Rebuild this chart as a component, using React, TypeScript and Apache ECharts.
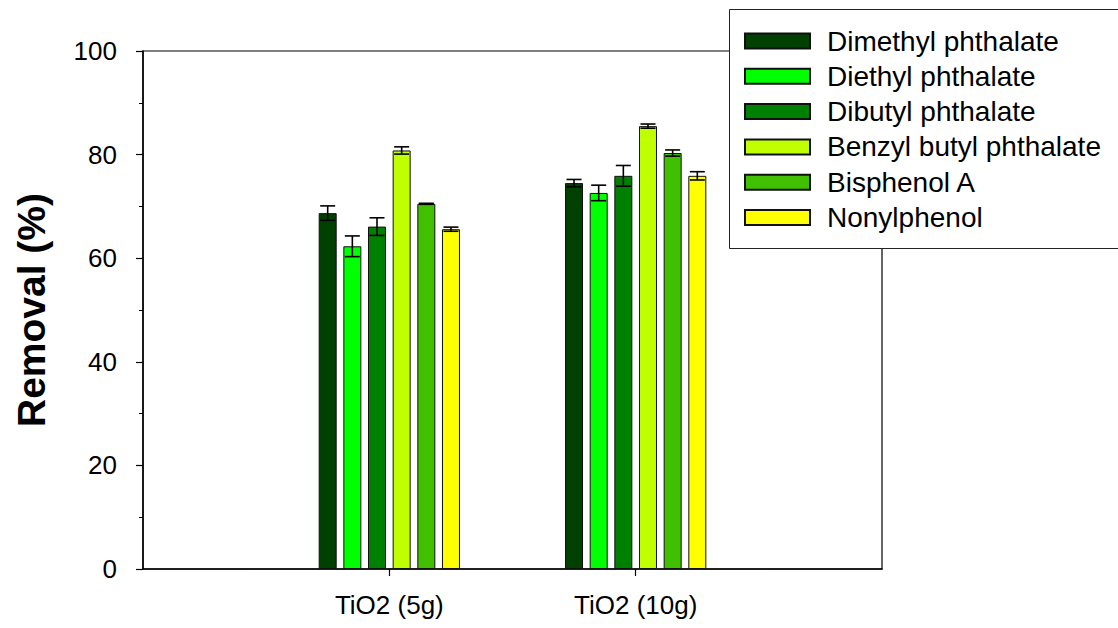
import React, { useEffect, useRef } from "react";
import * as echarts from "echarts";

const categories = ["", "TiO2 (5g)", "TiO2 (10g)", ""];
const seriesNames = [
  "Dimethyl phthalate",
  "Diethyl phthalate",
  "Dibutyl phthalate",
  "Benzyl butyl phthalate",
  "Bisphenol A",
  "Nonylphenol",
];
const colors = ["#004000", "#00ff00", "#008000", "#c0ff00", "#40c000", "#ffff00"];
// removal values: [TiO2 (5g), TiO2 (10g)]
const dimethyl = [68.7, 74.5];
const diethyl = [62.3, 72.6];
const dibutyl = [66.1, 75.9];
const benzylButyl = [80.8, 85.5];
const bisphenolA = [70.5, 80.3];
const nonylphenol = [65.6, 75.9];
// error (+/-)
const dimethylErr = [1.4, 0.7];
const diethylErr = [2.0, 1.5];
const dibutylErr = [1.7, 2.0];
const benzylButylErr = [0.7, 0.4];
const bisphenolAErr = [0.1, 0.6];
const nonylphenolErr = [0.4, 0.8];
const yTicks = [0, 20, 40, 60, 80, 100];

const values = [dimethyl, diethyl, dibutyl, benzylButyl, bisphenolA, nonylphenol];
const errors = [dimethylErr, diethylErr, dibutylErr, benzylButylErr, bisphenolAErr, nonylphenolErr];

const FONT = "Liberation Sans, Arial, Helvetica, sans-serif";
const BAR_W = 18;
const BAR_GAP = 0.37;

export default function App() {
  const ref = useRef<HTMLDivElement>(null);
  useEffect(() => {
    if (!ref.current) return;
    const chart = echarts.init(ref.current, null, { renderer: "svg" });
    const pitch = BAR_W * (1 + BAR_GAP);
    const barSeries = seriesNames.map((name, i) => ({
      name,
      type: "bar",
      barWidth: BAR_W,
      barGap: `${BAR_GAP * 100}%`,
      itemStyle: { color: colors[i], borderColor: "#111", borderWidth: 1 },
      data: ["-", values[i][0], values[i][1], "-"],
      z: 2,
    }));
    const errSeries = seriesNames.map((name, i) => ({
      type: "custom",
      name: name + "_err",
      z: 5,
      data: [
        [1, values[i][0], errors[i][0]],
        [2, values[i][1], errors[i][1]],
      ],
      encode: { x: 0, y: 1 },
      renderItem: (params: any, api: any) => {
        const c = api.value(0);
        const v = api.value(1);
        const e = api.value(2);
        const off = (i - 2.5) * pitch;
        const top = api.coord([c, v + e]);
        const bot = api.coord([c, v - e]);
        const x = top[0] + off;
        const hw = 7.5;
        const style = { stroke: "#000", lineWidth: 1.6 };
        return {
          type: "group",
          children: [
            { type: "line", shape: { x1: x, y1: top[1], x2: x, y2: bot[1] }, style },
            { type: "line", shape: { x1: x - hw, y1: top[1], x2: x + hw, y2: top[1] }, style },
            { type: "line", shape: { x1: x - hw, y1: bot[1], x2: x + hw, y2: bot[1] }, style },
          ],
        };
      },
    }));
    chart.setOption({
      animation: false,
      backgroundColor: "#fff",
      textStyle: { fontFamily: FONT },
      grid: {
        left: 143,
        right: 236,
        top: 51,
        bottom: 59,
        show: true,
        borderColor: "#000",
        borderWidth: 1.2,
        containLabel: false,
      },
      graphic: [
        {
          type: "rect",
          z: 30,
          shape: { x: 729.5, y: 9.5, width: 420, height: 239 },
          style: { fill: "#fff", stroke: "#222", lineWidth: 1 },
        },
      ],
      legend: {
        data: seriesNames,
        orient: "vertical",
        left: 729,
        top: 9,
        z: 40,
        icon: "rect",
        itemWidth: 65,
        itemHeight: 15,
        itemGap: 7.3,
        padding: [18, 10, 18, 15],
        borderWidth: 0,
        textStyle: {
          fontFamily: FONT,
          fontSize: 28,
          color: "#000",
          lineHeight: 28,
          padding: [0, 0, 0, 12],
        },
      },
      xAxis: {
        type: "category",
        data: categories,
        boundaryGap: false,
        axisLine: { show: true, lineStyle: { color: "#000", width: 1.5 } },
        axisTick: {
          show: true,
          interval: (index: number) => index === 1 || index === 2,
          length: 7,
          lineStyle: { color: "#000", width: 1.2 },
        },
        axisLabel: {
          interval: 0,
          margin: 23,
          fontSize: 26,
          color: "#000",
          fontFamily: FONT,
        },
        splitLine: { show: false },
      },
      yAxis: {
        type: "value",
        min: yTicks[0],
        max: yTicks[yTicks.length - 1],
        interval: 20,
        name: "Removal (%)",
        nameLocation: "middle",
        nameGap: 92,
        nameTextStyle: { fontSize: 39, fontWeight: "bold", color: "#000", fontFamily: FONT },
        axisLine: { show: true, lineStyle: { color: "#000", width: 1.5 } },
        axisTick: { show: true, length: 7, lineStyle: { color: "#000", width: 1.2 } },
        minorTick: { show: true, splitNumber: 2, length: 4, lineStyle: { color: "#000", width: 1 } },
        axisLabel: { margin: 26, fontSize: 26, color: "#000", fontFamily: FONT },
        splitLine: { show: false },
      },
      series: [...barSeries, ...errSeries],
    });
    return () => chart.dispose();
  }, []);
  return (
    <div
      ref={ref}
      style={{ position: "fixed", left: 0, top: 0, width: 1118, height: 628, background: "#fff" }}
    />
  );
}
